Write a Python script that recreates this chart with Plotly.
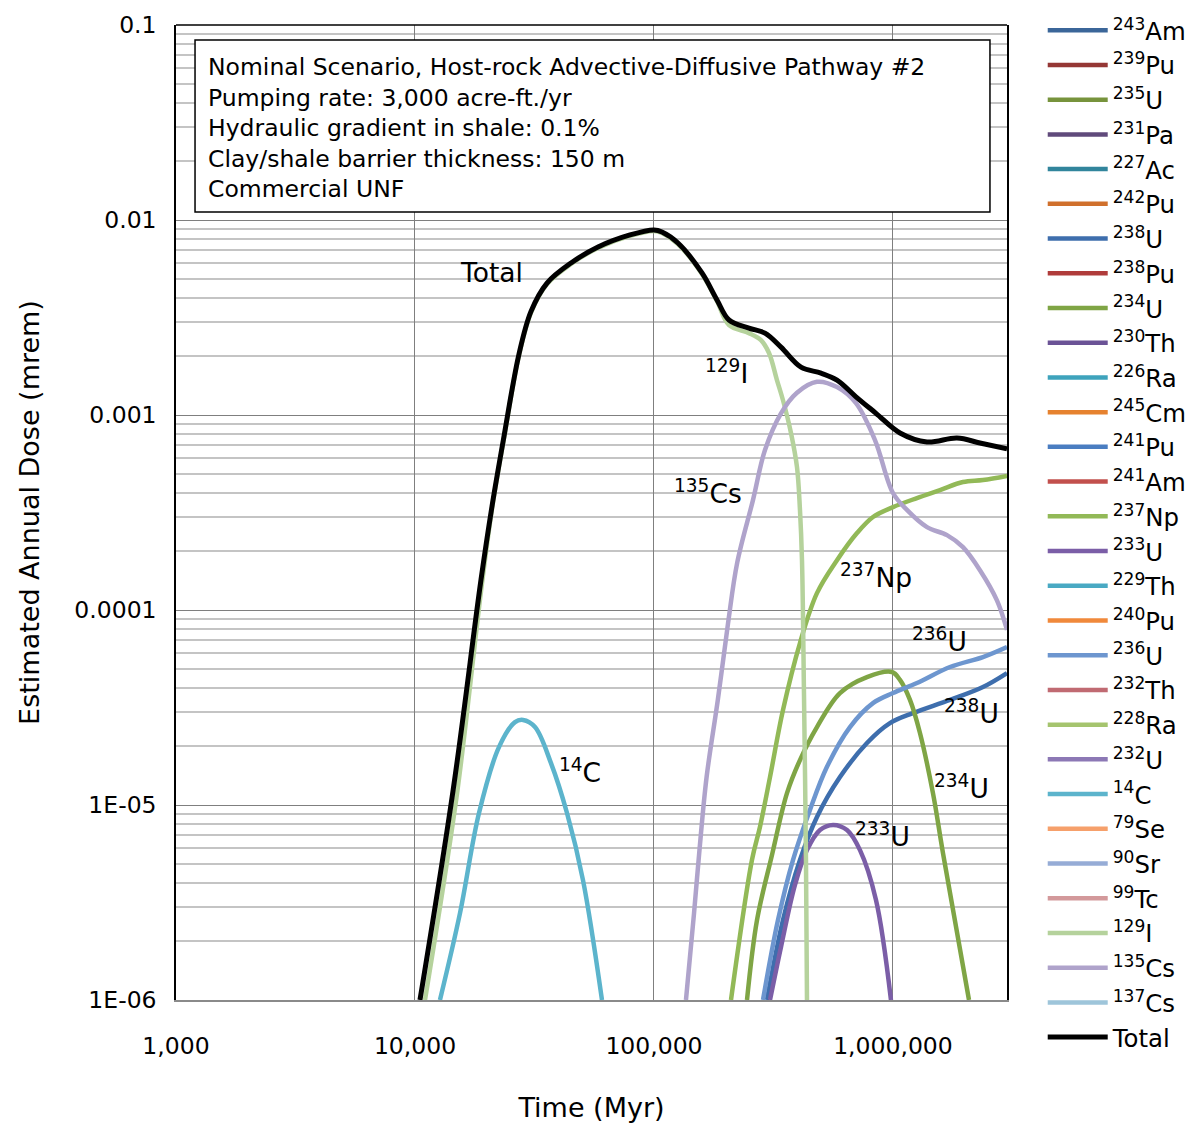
import re
import math
import plotly.graph_objects as go

FONT = "DejaVu Sans"

# ---------------- data ----------------
nuclides = ["243Am", "239Pu", "235U", "231Pa", "227Ac", "242Pu", "238U", "238Pu",
            "234U", "230Th", "226Ra", "245Cm", "241Pu", "241Am", "237Np", "233U",
            "229Th", "240Pu", "236U", "232Th", "228Ra", "232U", "14C", "79Se",
            "90Sr", "99Tc", "129I", "135Cs", "137Cs", "Total"]

time_total = [10490, 14450, 18890, 21000, 23500, 27230, 30580, 35680, 44960, 58310,
              79350, 100000, 108000, 126000, 158800, 183500, 206000, 249700, 291400,
              340000, 412200, 499800, 583100, 700200, 849100, 1070000, 1388000,
              1853000, 2312000, 3000000]
dose_total = [1.0e-6, 1.20e-5, 1.43e-4, 3.40e-4, 7.60e-4, 2.05e-3, 3.40e-3, 4.75e-3,
              6.02e-3, 7.27e-3, 8.38e-3, 8.89e-3, 8.68e-3, 7.62e-3, 5.35e-3, 3.89e-3,
              3.07e-3, 2.79e-3, 2.63e-3, 2.23e-3, 1.76e-3, 1.64e-3, 1.51e-3, 1.24e-3,
              1.02e-3, 8.09e-4, 7.27e-4, 7.62e-4, 7.19e-4, 6.70e-4]

time_i129 = [11010, 15000, 18890, 21000, 23500, 27230, 30580, 35680, 44960, 58310,
             79350, 100000, 108000, 126000, 158800, 183500, 206000, 249700, 280300,
             302900, 327000, 346600, 374300, 396600, 408200, 416200, 424200, 432500,
             436700]
dose_i129 = [1.0e-6, 1.15e-5, 1.25e-4, 3.30e-4, 7.45e-4, 2.02e-3, 3.35e-3, 4.69e-3,
             5.95e-3, 7.19e-3, 8.29e-3, 8.79e-3, 8.58e-3, 7.53e-3, 5.28e-3, 3.83e-3,
             2.89e-3, 2.63e-3, 2.42e-3, 2.08e-3, 1.51e-3, 1.19e-3, 8.09e-4, 5.41e-4,
             3.26e-4, 1.80e-4, 3.75e-5, 5.22e-6, 1.0e-6]

time_cs135 = [136100, 147100, 155000, 166000, 185000, 204000, 223000, 259500, 291400,
              340000, 396600, 480800, 583100, 700200, 840800, 1000000, 1144000,
              1388000, 1683000, 1963000, 2312000, 2723000, 3000000]
dose_cs135 = [1.0e-6, 2.79e-6, 5.87e-6, 1.39e-5, 3.46e-5, 8.50e-5, 1.75e-4, 3.66e-4,
              6.61e-4, 1.02e-3, 1.30e-3, 1.48e-3, 1.39e-3, 1.15e-3, 7.44e-4, 3.98e-4,
              3.26e-4, 2.66e-4, 2.42e-4, 2.10e-4, 1.60e-4, 1.12e-4, 7.90e-5]

time_c14 = [12720, 15430, 18530, 22460, 26210, 28310, 31780, 37070, 43250, 50460, 60590]
dose_c14 = [1.0e-6, 2.79e-6, 9.10e-6, 1.98e-5, 2.66e-5, 2.73e-5, 2.51e-5, 1.64e-5,
            9.10e-6, 4.12e-6, 1.0e-6]

time_np237 = [210000, 257000, 277600, 305800, 346600, 408200, 480800, 583100, 707000,
              824800, 1000000, 1260000, 1573000, 1963000, 2380000, 3000000]
dose_np237 = [1.0e-6, 5.22e-6, 7.71e-6, 1.39e-5, 3.07e-5, 6.77e-5, 1.22e-4, 1.80e-4,
              2.48e-4, 3.00e-4, 3.37e-4, 3.75e-4, 4.12e-4, 4.53e-4, 4.64e-4, 4.87e-4]

time_u234 = [245000, 269800, 311700, 360200, 408200, 480800, 600100, 778400, 990400,
             1070000, 1178000, 1297000, 1470000, 1619000, 2080000]
dose_u234 = [1.0e-6, 2.57e-6, 5.54e-6, 1.15e-5, 1.70e-5, 2.51e-5, 3.75e-5, 4.53e-5,
             4.81e-5, 4.38e-5, 3.46e-5, 2.34e-5, 1.15e-5, 5.67e-6, 1.0e-6]

time_u236 = [285800, 330300, 381600, 449400, 529500, 660800, 824800, 1000000, 1260000,
             1732000, 2380000, 3000000]
dose_u236 = [1.0e-6, 2.57e-6, 5.22e-6, 9.43e-6, 1.57e-5, 2.51e-5, 3.33e-5, 3.75e-5,
             4.22e-5, 5.10e-5, 5.74e-5, 6.46e-5]

time_u238 = [297000, 346600, 408200, 480800, 600100, 778400, 971400, 1212000, 1732000,
             2380000, 3000000]
dose_u238 = [1.0e-6, 2.57e-6, 5.22e-6, 8.68e-6, 1.39e-5, 2.08e-5, 2.63e-5, 2.96e-5,
             3.46e-5, 4.03e-5, 4.75e-5]

time_u233 = [305800, 340000, 389000, 436700, 495000, 561100, 642100, 727800, 849100, 980900]
dose_u233 = [1.0e-6, 1.87e-6, 3.89e-6, 5.87e-6, 7.44e-6, 7.90e-6, 7.44e-6, 5.87e-6,
             3.26e-6, 1.0e-6]

series = {
    "Total": (time_total, dose_total),
    "129I": (time_i129, dose_i129),
    "135Cs": (time_cs135, dose_cs135),
    "14C": (time_c14, dose_c14),
    "237Np": (time_np237, dose_np237),
    "234U": (time_u234, dose_u234),
    "236U": (time_u236, dose_u236),
    "238U": (time_u238, dose_u238),
    "233U": (time_u233, dose_u233),
}

x_tick_vals = [1e3, 1e4, 1e5, 1e6]
x_tick_text = ["1,000", "10,000", "100,000", "1,000,000"]
y_tick_vals = [1e-6, 1e-5, 1e-4, 1e-3, 1e-2, 1e-1]
y_tick_text = ["1E-06", "1E-05", "0.0001", "0.001", "0.01", "0.1"]

info_lines = ["Nominal Scenario, Host-rock Advective-Diffusive Pathway #2",
              "Pumping rate: 3,000 acre-ft./yr",
              "Hydraulic gradient in shale: 0.1%",
              "Clay/shale barrier thickness: 150 m",
              "Commercial UNF"]

# ---------------- styles ----------------
colors = {
    "243Am": "#3B6699", "239Pu": "#953735", "235U": "#77933C", "231Pa": "#604A7B",
    "227Ac": "#31859C", "242Pu": "#D0702C", "238U": "#3E6EAD", "238Pu": "#B03C3B",
    "234U": "#7FA545", "230Th": "#6B5396", "226Ra": "#3EA3BC", "245Cm": "#E6822F",
    "241Pu": "#4A7DC1", "241Am": "#C2504D", "237Np": "#92B957", "233U": "#7B5EA7",
    "229Th": "#49A9C3", "240Pu": "#F0893B", "236U": "#6D96CF", "232Th": "#C06A72",
    "228Ra": "#A5C46E", "232U": "#8C78B5", "14C": "#5CB4CC", "79Se": "#F6A06B",
    "90Sr": "#96ACD6", "99Tc": "#D3999B", "129I": "#B5D29C", "135Cs": "#AFA3CB",
    "137Cs": "#9EC5DA", "Total": "#000000",
}


def label(nuc):
    m = re.match(r"(\d+)(\D+)", nuc)
    if m:
        return "<sup>%s</sup>%s" % (m.group(1), m.group(2))
    return nuc


fig = go.Figure()
for nuc in nuclides:
    if nuc in series:
        xs, ys = series[nuc]
    else:
        xs, ys = [None], [None]
    fig.add_trace(go.Scatter(
        x=xs, y=ys, mode="lines", name=label(nuc),
        line=dict(color=colors[nuc], width=5 if nuc == "Total" else 4.5,
                  shape="spline", smoothing=1.0),
        hoverinfo="skip"))

minor_vals = [m * 10 ** e for e in range(-6, -1) for m in range(2, 10)]

curve_labels = [
    ("Total", 4.3222, -2.2667),
    ("<sup>129</sup>I", 5.3054, -2.7795),
    ("<sup>135</sup>Cs", 5.2259, -3.3949),
    ("<sup>237</sup>Np", 5.9289, -3.8256),
    ("<sup>236</sup>U", 6.1967, -4.1538),
    ("<sup>238</sup>U", 6.3305, -4.5231),
    ("<sup>234</sup>U", 6.2887, -4.9077),
    ("<sup>233</sup>U", 5.9582, -5.1538),
    ("<sup>14</sup>C", 4.6904, -4.8256),
]
annotations = [dict(text=t, x=ax, y=ay, xref="x", yref="y", showarrow=False,
                    font=dict(family=FONT, size=26.5, color="black"))
               for t, ax, ay in curve_labels]
annotations.append(dict(text="<br>".join(info_lines), xref="paper", yref="paper",
                        x=0.0361, y=0.8944, xanchor="left", yanchor="middle",
                        align="left", showarrow=False,
                        font=dict(family=FONT, size=23.5, color="black")))

shapes = [
    dict(type="rect", xref="paper", yref="paper", x0=0.0229, x1=0.9795,
         y0=0.8082, y1=0.9846, fillcolor="white", line=dict(color="black", width=1.5),
         layer="above"),
    dict(type="line", xref="paper", yref="paper", x0=0, x1=1, y0=1, y1=1,
         line=dict(color="black", width=1.5), layer="above"),
]

fig.update_layout(
    width=1191, height=1124,
    margin=dict(l=176, r=184, t=25, b=124, autoexpand=False),
    paper_bgcolor="white", plot_bgcolor="white",
    font=dict(family=FONT, color="black", size=24),
    showlegend=True,
    legend=dict(xref="container", yref="container", x=0.8755, y=0.993,
                xanchor="left", yanchor="top", font=dict(family=FONT, size=24.4),
                itemwidth=60, tracegroupgap=0, bgcolor="rgba(0,0,0,0)",
                borderwidth=0, maxheight=1.0),
    xaxis=dict(type="log", range=[3, math.log10(3e6)], tickmode="array",
               tickvals=x_tick_vals, ticktext=x_tick_text, showgrid=True,
               gridcolor="#7f7f7f", gridwidth=1, showline=True, linecolor="#8a8a8a",
               linewidth=1.5, ticks="", ticklabelstandoff=24, zeroline=False,
               tickfont=dict(size=23.5),
               title=dict(text="Time (Myr)", font=dict(size=27), standoff=39)),
    yaxis=dict(type="log", range=[-6, -1], tickmode="array", tickvals=y_tick_vals,
               ticktext=y_tick_text, showgrid=True, gridcolor="#7f7f7f", gridwidth=1,
               minor=dict(tickmode="array", tickvals=minor_vals, showgrid=True,
                          gridcolor="#c4c4c4", gridwidth=1.5, ticks=""),
               showline=True, linecolor="black", linewidth=1.5, mirror=True,
               ticks="", ticklabelstandoff=13, zeroline=False,
               tickfont=dict(size=23.5),
               title=dict(text="Estimated Annual Dose (mrem)", font=dict(size=27),
                          standoff=27)),
    annotations=annotations,
    shapes=shapes,
)

fig.write_html("out.html",
               config={"displayModeBar": False},
               post_script="document.body.style.margin='0px';document.body.style.padding='0px';")
